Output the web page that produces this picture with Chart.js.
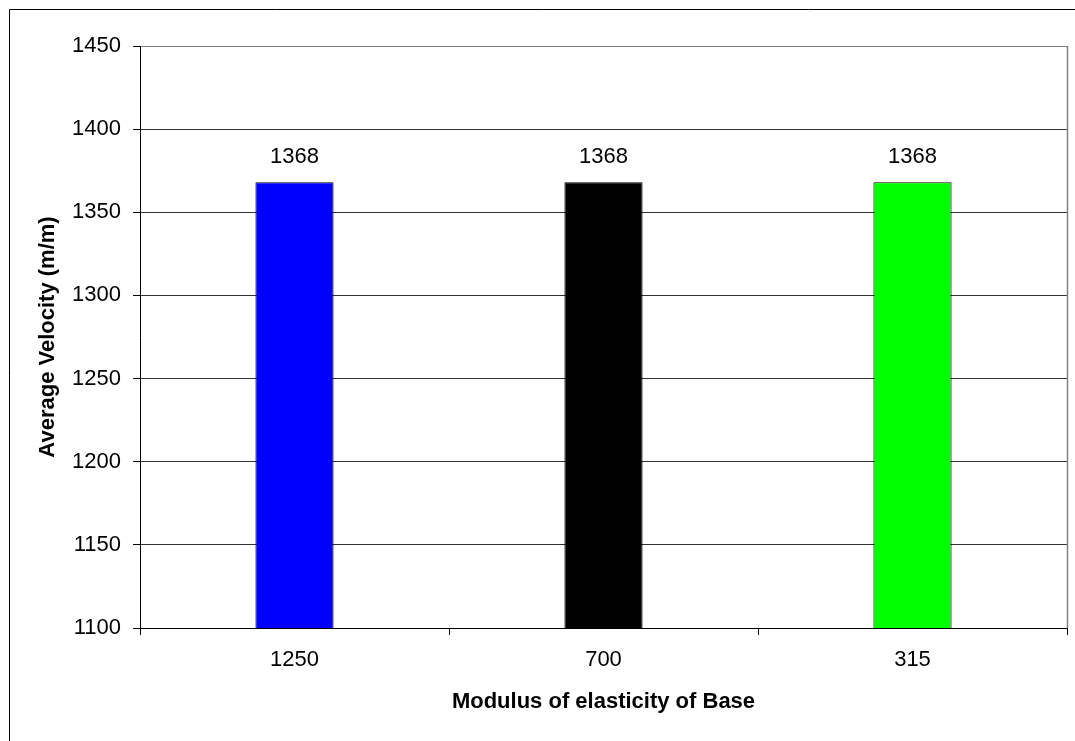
<!DOCTYPE html>
<html>
<head>
<meta charset="utf-8">
<script src="https://cdn.jsdelivr.net/npm/chart.js@4.4.1/dist/chart.umd.min.js"></script>
<style>
  html, body { margin: 0; padding: 0; background: #ffffff; }
  #wrap { position: relative; width: 1075px; height: 741px; }
</style>
</head>
<body>
<div id="wrap"><canvas id="c" width="1075" height="741"></canvas></div>
<script>
// Average velocity for each base modulus
const categories = ['1250', '700', '315'];
const velocities = [1368, 1368, 1368];
const barColors = ['#0000FF', '#000000', '#00FF00'];
const yMin = 1100;
const yMax = 1450;
const yStep = 50;

const FONT = '"Liberation Sans", Arial, sans-serif';

// Frame lines around the figure and the plot area's right edge
const framePlugin = {
  id: 'frame',
  beforeDraw(chart) {
    const ctx = chart.ctx;
    ctx.save();
    ctx.fillStyle = '#ffffff';
    ctx.fillRect(0, 0, chart.width, chart.height);
    ctx.strokeStyle = '#000000';
    ctx.lineWidth = 1;
    ctx.beginPath();
    ctx.moveTo(9.5, chart.height);
    ctx.lineTo(9.5, 9.5);
    ctx.lineTo(chart.width, 9.5);
    ctx.stroke();
    ctx.restore();
  },
  afterDraw(chart) {
    const a = chart.chartArea;
    const ctx = chart.ctx;
    ctx.save();
    ctx.strokeStyle = '#808080';
    ctx.lineWidth = 1.5;
    ctx.beginPath();
    ctx.moveTo(Math.round(a.right) + 0.5, a.top);
    ctx.lineTo(Math.round(a.right) + 0.5, a.bottom);
    ctx.stroke();
    ctx.restore();
  }
};

// Value labels above each bar
const valueLabels = {
  id: 'valueLabels',
  afterDatasetsDraw(chart) {
    const ctx = chart.ctx;
    ctx.save();
    ctx.font = '22px ' + FONT;
    ctx.fillStyle = '#000000';
    ctx.textAlign = 'center';
    ctx.textBaseline = 'middle';
    chart.data.datasets.forEach((ds, di) => {
      chart.getDatasetMeta(di).data.forEach((bar, i) => {
        ctx.fillText(String(ds.data[i]), bar.x, bar.y - 25);
      });
    });
    ctx.restore();
  }
};

new Chart(document.getElementById('c'), {
  type: 'bar',
  data: {
    labels: categories,
    datasets: [{
      data: velocities,
      backgroundColor: barColors,
      borderColor: '#000000',
      borderWidth: 1,
      categoryPercentage: 1.0,
      barPercentage: 0.253
    }]
  },
  options: {
    responsive: false,
    animation: false,
    devicePixelRatio: 1,
    layout: { padding: { top: 46, right: 8, left: 0, bottom: 0 } },
    plugins: {
      legend: { display: false },
      tooltip: { enabled: false }
    },
    scales: {
      x: {
        grid: {
          offset: true,
          drawOnChartArea: false,
          drawTicks: true,
          tickLength: 7,
          tickColor: '#000000'
        },
        border: { color: '#000000', width: 1 },
        ticks: {
          color: '#000000',
          padding: 12,
          font: { family: FONT, size: 22 }
        },
        title: {
          display: true,
          text: 'Modulus of elasticity of Base',
          color: '#000000',
          font: { family: FONT, size: 22, weight: 'bold' },
          padding: { top: 0, bottom: 26 }
        },
        afterFit(scale) { scale.height = 113; }
      },
      y: {
        min: yMin,
        max: yMax,
        grid: {
          color: (c) => (c.tick && c.tick.value === yMax ? '#808080' : '#333333'),
          lineWidth: 1,
          tickLength: 7,
          tickColor: '#000000'
        },
        border: { color: '#000000', width: 1 },
        ticks: {
          stepSize: yStep,
          color: '#000000',
          padding: 12,
          font: { family: FONT, size: 22 },
          callback: (v) => String(v)
        },
        title: {
          display: true,
          text: 'Average Velocity (m/m)',
          color: '#000000',
          font: { family: FONT, size: 22, weight: 'bold' },
          padding: { top: 35, bottom: 0 }
        },
        afterFit(scale) { scale.width = 140; }
      }
    }
  },
  plugins: [framePlugin, valueLabels]
});
</script>
</body>
</html>
